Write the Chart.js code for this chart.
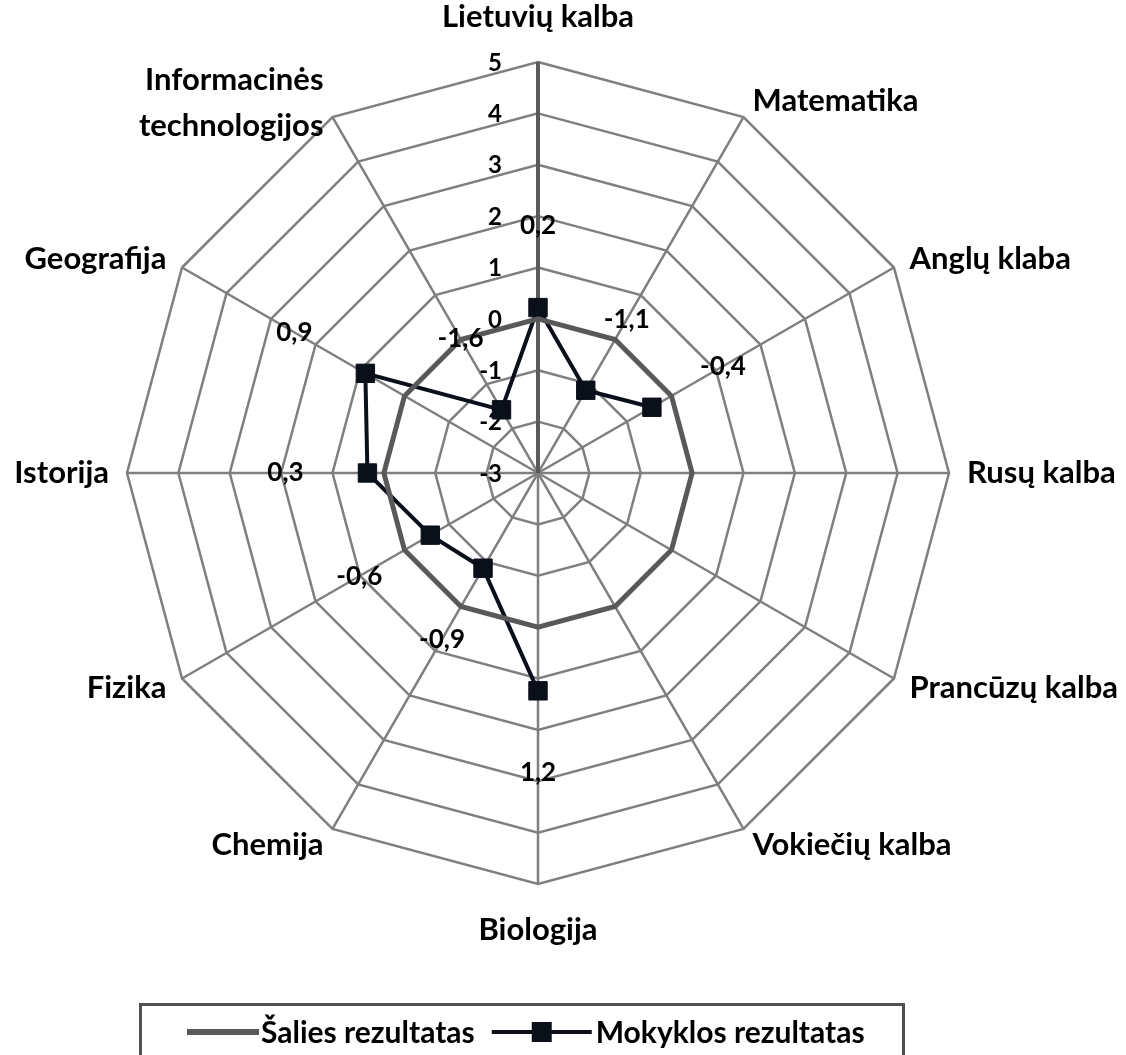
<!DOCTYPE html>
<html>
<head>
<meta charset="utf-8">
<script src="https://cdn.jsdelivr.net/npm/chart.js@4.4.1/dist/chart.umd.min.js"></script>
<style>
  html, body { margin: 0; padding: 0; background: #fff; }
  #wrap { width: 1126px; height: 1055px; position: relative; }
</style>
</head>
<body>
<div id="wrap"><canvas id="radarChart"></canvas></div>
<script>
const subjects = ['Lietuvių kalba', 'Matematika', 'Anglų klaba', 'Rusų kalba', 'Prancūzų kalba', 'Vokiečių kalba',
    'Biologija', 'Chemija', 'Fizika', 'Istorija', 'Geografija', ['Informacinės', 'technologijos']];
const countryResults = [0, 0, 0, 0, 0, 0, 0, 0, 0, 0, 0, 0];
const schoolResults = [0.22, -1.14, -0.44, null, null, null, 1.24, -0.86, -0.58, 0.32, 0.88, -1.58];
const scaleTicks = [-3, -2, -1, 0, 1, 2, 3, 4, 5];

const FONT = 'Lato, "Noto Sans", sans-serif';

// tick labels sit left of the vertical axis, under the series
const tickLabels = {
    id: 'tickLabels',
    beforeDatasetsDraw(chart) {
        const ctx = chart.ctx;
        const scale = chart.scales.r;
        ctx.save();
        ctx.fillStyle = '#000';
        ctx.font = 'bold 24px ' + FONT;
        ctx.textAlign = 'right';
        ctx.textBaseline = 'middle';
        scaleTicks.forEach(v => {
            const y = scale.yCenter - scale.getDistanceFromCenterForValue(v);
            ctx.fillText(String(v), scale.xCenter - 36, y + 1);
        });
        ctx.restore();
    }
};

const textLayer = {
    id: 'textLayer',
    afterDatasetsDraw(chart) {
        const ctx = chart.ctx;
        const scale = chart.scales.r;
        const r = scale.drawingArea;
        ctx.save();
        ctx.fillStyle = '#000';

        // subject names round the outside
        ctx.font = 'bold 31px ' + FONT;
        subjects.forEach((label, i) => {
            const vertical = i === 0 || i === 6;
            const pos = scale.getPointPosition(i, r + (vertical ? 30 : 18));
            const dx = pos.x - scale.xCenter;
            const lines = Array.isArray(label) ? label : [label];
            ctx.textAlign = Math.abs(dx) < 2 ? 'center' : (dx > 0 ? 'left' : 'right');
            let baseline = 'middle';
            if (i === 0) baseline = 'bottom';
            if (i === 6) baseline = 'top';
            ctx.textBaseline = baseline;
            const lh = 46;
            const y0 = pos.y - (lines.length - 1) * lh / 2 + (lines.length > 1 ? 2 : 0);
            lines.forEach((t, k) => ctx.fillText(t, pos.x, y0 + k * lh));
        });

        // values of the school series
        ctx.font = 'bold 26px ' + FONT;
        ctx.textAlign = 'center';
        ctx.textBaseline = 'middle';
        schoolResults.forEach((v, i) => {
            if (v === null) return;
            const d = scale.getDistanceFromCenterForValue(v) + 82;
            const pos = scale.getPointPosition(i, d);
            ctx.fillText(v.toFixed(1).replace('.', ','), pos.x, pos.y);
        });

        // legend in a framed box
        const ds = chart.data.datasets;
        ctx.strokeStyle = '#505050';
        ctx.lineWidth = 3;
        ctx.strokeRect(140.5, 1004.5, 763, 60);
        ctx.font = 'bold 30px ' + FONT;
        ctx.textAlign = 'left';
        ctx.textBaseline = 'middle';
        const ly = 1032;
        let x = 187;
        ctx.strokeStyle = ds[0].borderColor;
        ctx.lineWidth = 6;
        ctx.beginPath();
        ctx.moveTo(x, ly);
        ctx.lineTo(x + 72, ly);
        ctx.stroke();
        x += 74;
        ctx.fillText(ds[0].label, x, ly + 1);
        x += ctx.measureText(ds[0].label).width + 17;
        ctx.strokeStyle = ds[1].borderColor;
        ctx.lineWidth = 4;
        ctx.beginPath();
        ctx.moveTo(x, ly);
        ctx.lineTo(x + 100, ly);
        ctx.stroke();
        ctx.fillStyle = ds[1].pointBackgroundColor;
        ctx.fillRect(x + 50 - 10, ly - 10, 20, 20);
        x += 104;
        ctx.fillStyle = '#000';
        ctx.fillText(ds[1].label, x, ly + 1);
        ctx.restore();
    }
};

const ctx = document.getElementById('radarChart');
new Chart(ctx, {
    type: 'radar',
    data: {
        labels: subjects,
        datasets: [
            {
                label: 'Šalies rezultatas',
                data: countryResults,
                borderColor: '#595959',
                backgroundColor: 'transparent',
                borderWidth: 5,
                pointRadius: 0,
                pointHoverRadius: 0,
                fill: false
            },
            {
                label: 'Mokyklos rezultatas',
                data: schoolResults,
                borderColor: '#0a0f1a',
                backgroundColor: 'transparent',
                borderWidth: 4,
                pointStyle: 'rect',
                pointRadius: 13,
                pointBorderWidth: 1,
                pointBackgroundColor: '#0a0f1a',
                pointBorderColor: '#0a0f1a',
                spanGaps: false,
                fill: false
            }
        ]
    },
    options: {
        responsive: true,
        maintainAspectRatio: false,
        animation: false,
        layout: {
            padding: { left: 127, right: 177, top: 62, bottom: 171 }
        },
        scales: {
            r: {
                min: -3,
                max: 5,
                ticks: { stepSize: 1, display: false },
                pointLabels: { display: false },
                grid: { color: '#7f7f7f', lineWidth: 2.5 },
                angleLines: {
                    color: ctx => ctx.index === 0 ? '#5a5a5a' : '#7f7f7f',
                    lineWidth: ctx => ctx.index === 0 ? 4 : 2.5
                }
            }
        },
        plugins: {
            legend: { display: false },
            tooltip: { enabled: false }
        }
    },
    plugins: [tickLabels, textLayer]
});
</script>
</body>
</html>
